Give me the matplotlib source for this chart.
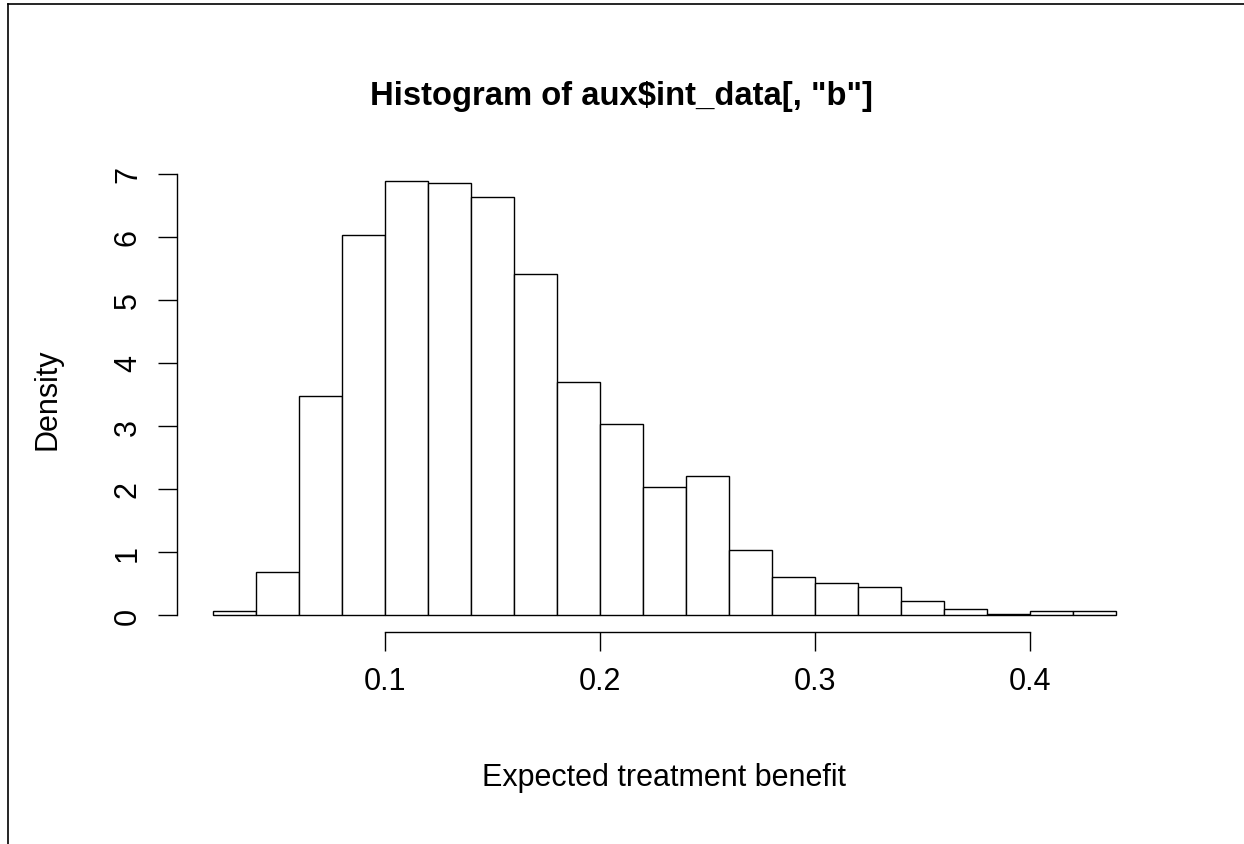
import numpy as np
import matplotlib
matplotlib.use('Agg')
import matplotlib.pyplot as plt
from matplotlib.lines import Line2D

# Histogram bins (width 0.02) and densities
bin_edges = [0.02, 0.04, 0.06, 0.08, 0.10, 0.12, 0.14, 0.16, 0.18, 0.20, 0.22,
             0.24, 0.26, 0.28, 0.30, 0.32, 0.34, 0.36, 0.38, 0.40, 0.42, 0.44]
density = [0.06, 0.69, 3.47, 6.03, 6.89, 6.86, 6.64, 5.41, 3.70, 3.03, 2.03,
           2.21, 1.04, 0.60, 0.51, 0.44, 0.23, 0.09, 0.01, 0.06, 0.06]
x_ticks = [0.1, 0.2, 0.3, 0.4]
y_ticks = [0, 1, 2, 3, 4, 5, 6, 7]

plt.rcParams['font.family'] = ['Liberation Sans', 'DejaVu Sans']

fig = plt.figure(figsize=(12.44, 8.45), dpi=100)
ax = fig.add_axes([0.1423, 0.2504, 0.926 - 0.1423, 0.8053 - 0.2504])

lefts = np.array(bin_edges[:-1])
widths = np.diff(bin_edges)
ax.bar(lefts, density, width=widths, align='edge', color='white',
       edgecolor='black', linewidth=1.0)

# R-style 4% extension of the ranges
x0, x1 = bin_edges[0], bin_edges[-1]
ax.set_xlim(x0 - 0.04 * (x1 - x0), x1 + 0.04 * (x1 - x0))
ymax = max(density)
ax.set_ylim(-0.04 * ymax, ymax * 1.04)

for s in ['top', 'right']:
    ax.spines[s].set_visible(False)
ax.spines['bottom'].set_bounds(x_ticks[0], x_ticks[-1])
ax.spines['left'].set_bounds(y_ticks[0], y_ticks[-1])
for s in ['bottom', 'left']:
    ax.spines[s].set_linewidth(1.0)

ax.set_xticks(x_ticks)
ax.set_xticklabels([str(v) for v in x_ticks])
ax.set_yticks(y_ticks)
ax.set_yticklabels([str(v) for v in y_ticks], rotation=90, va='center')
ax.tick_params(axis='both', direction='out', length=13.5, width=1.0,
               labelsize=22, color='black')
ax.tick_params(axis='x', pad=11)
ax.tick_params(axis='y', pad=11)

# title sits centred on the page rather than on the plot region
fig.text(622 / 1244, 1 - 97 / 845, 'Histogram of aux$int_data[, "b"]',
         fontsize=23.6, fontweight='bold', ha='center', va='center')
ax.set_xlabel('Expected treatment benefit', fontsize=22, labelpad=47)
ax.set_ylabel('Density', fontsize=22, labelpad=36)

# partial frame around the figure
fig.add_artist(Line2D([8 / 1244, 1.0], [1 - 5 / 845, 1 - 5 / 845],
                      transform=fig.transFigure, color='black', linewidth=1.2))
fig.add_artist(Line2D([8 / 1244, 8 / 1244], [0.0, 1 - 5 / 845],
                      transform=fig.transFigure, color='black', linewidth=1.2))

fig.savefig('out.png', dpi=100)
